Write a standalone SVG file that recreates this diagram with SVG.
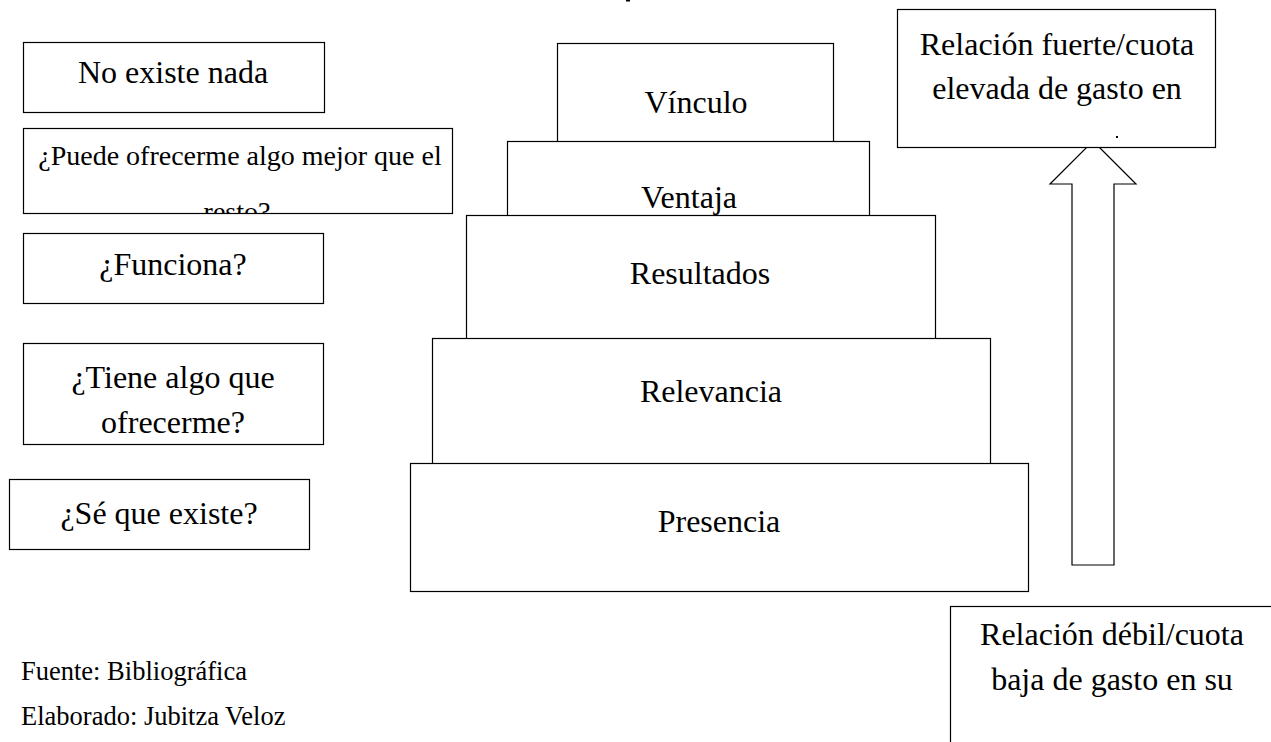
<svg xmlns="http://www.w3.org/2000/svg" width="1271" height="742" viewBox="0 0 1271 742">
  <style>
    .box { fill: #ffffff; stroke: #000000; stroke-width: 1.2; }
    .t { font-family: "Liberation Serif", "Times New Roman", serif; fill: #000000; text-anchor: middle; }
    .t32 { font-size: 32px; }
    .t28 { font-size: 28px; }
    .src { font-family: "Liberation Serif", "Times New Roman", serif; font-size: 26.5px; fill: #000000; }
    .arrow { fill: #ffffff; stroke: #000000; stroke-width: 1.2; stroke-linejoin: miter; }
  </style>
  <defs>
    <clipPath id="clipPuede"><rect x="23.5" y="128.5" width="429" height="85"/></clipPath>
    <clipPath id="clipVentaja"><rect x="507.5" y="141.5" width="362" height="74"/></clipPath>
  </defs>
  <rect x="0" y="0" width="1271" height="742" fill="#ffffff"/>
  <rect x="626" y="0" width="4" height="1.5" fill="#000000"/>

  <g id="connectors">
    <polygon class="arrow" points="1093,141 1136,184 1114,184 1114,565 1072,565 1072,184 1050,184"/>
  </g>

  <g id="node-no-existe">
    <rect class="box" x="23.5" y="42.5" width="301" height="70"/>
    <text class="t t32" x="173" y="83">No existe nada</text>
  </g>
  <g id="node-puede">
    <rect class="box" x="23.5" y="128.5" width="429" height="85"/>
    <g clip-path="url(#clipPuede)">
      <text class="t t28" x="240" y="165">¿Puede ofrecerme algo mejor que el</text>
      <text class="t t28" x="237" y="221">resto?</text>
    </g>
  </g>
  <g id="node-funciona">
    <rect class="box" x="23.5" y="233.5" width="300" height="70"/>
    <text class="t t32" x="173" y="275">¿Funciona?</text>
  </g>
  <g id="node-tiene">
    <rect class="box" x="23.5" y="343.5" width="300" height="101"/>
    <text class="t t32" x="173" y="388">¿Tiene algo que</text>
    <text class="t t32" x="173" y="433">ofrecerme?</text>
  </g>
  <g id="node-se">
    <rect class="box" x="9.5" y="479.5" width="300" height="70"/>
    <text class="t t32" x="159" y="524">¿Sé que existe?</text>
  </g>

  <g id="node-vinculo">
    <rect class="box" x="557.5" y="43.5" width="276" height="120"/>
    <text class="t t32" x="696" y="113">Vínculo</text>
  </g>
  <g id="node-ventaja">
    <rect class="box" x="507.5" y="141.5" width="362" height="100"/>
    <g clip-path="url(#clipVentaja)">
      <text class="t t32" x="689" y="208">Ventaja</text>
    </g>
  </g>
  <g id="node-resultados">
    <rect class="box" x="466.5" y="215.5" width="469" height="140"/>
    <text class="t t32" x="700" y="284">Resultados</text>
  </g>
  <g id="node-relevancia">
    <rect class="box" x="432.5" y="338.5" width="558" height="140"/>
    <text class="t t32" x="711" y="402">Relevancia</text>
  </g>
  <g id="node-presencia">
    <rect class="box" x="410.5" y="463.5" width="618" height="128"/>
    <text class="t t32" x="719" y="532">Presencia</text>
  </g>

  <g id="node-fuerte">
    <rect class="box" x="897.5" y="9.5" width="318" height="138"/>
    <text class="t t32" x="1057" y="55">Relación fuerte/cuota</text>
    <text class="t t32" x="1057" y="99">elevada de gasto en</text>
    <rect x="1116" y="136" width="2" height="2" fill="#000000"/>
  </g>
  <g id="node-debil">
    <rect class="box" x="950.5" y="606.5" width="330" height="150"/>
    <text class="t t32" x="1112" y="645">Relación débil/cuota</text>
    <text class="t t32" x="1112" y="690">baja de gasto en su</text>
  </g>

  <g id="source">
    <text class="src" x="21" y="680">Fuente: Bibliográfica</text>
    <text class="src" x="21" y="725">Elaborado: Jubitza Veloz</text>
  </g>
</svg>
